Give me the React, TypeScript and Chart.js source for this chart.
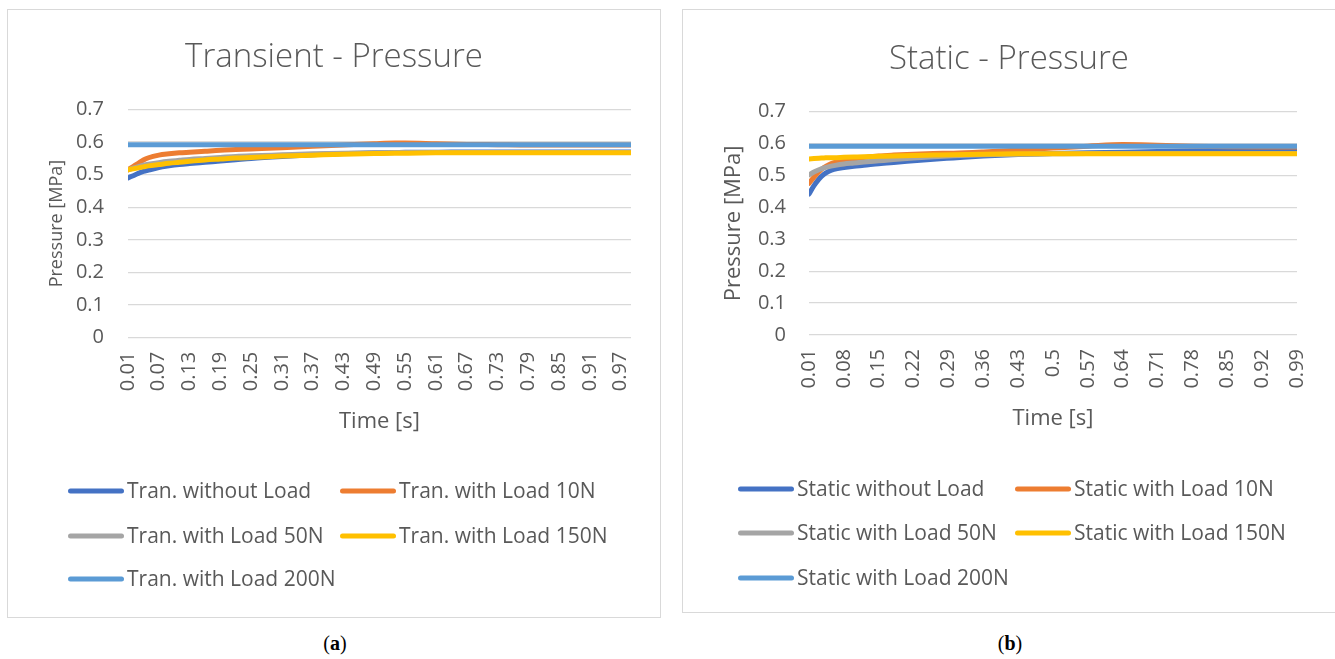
import React, { useEffect, useRef } from "react";
import { Chart, registerables } from "chart.js";

Chart.register(...registerables);

// ---------------- DATA ----------------
const seriesColors = ["#4472C4", "#ED7D31", "#A5A5A5", "#FFC000", "#5B9BD5"];

const yTickLabels = ["0", "0.1", "0.2", "0.3", "0.4", "0.5", "0.6", "0.7"];

// (a) Transient
const tranLabels = [
  "Tran. without Load",
  "Tran. with Load 10N",
  "Tran. with Load 50N",
  "Tran. with Load 150N",
  "Tran. with Load 200N",
];
const tranTickValues = [0.01, 0.07, 0.13, 0.19, 0.25, 0.31, 0.37, 0.43, 0.49, 0.55, 0.61, 0.67, 0.73, 0.79, 0.85, 0.91, 0.97];
const tranTickLabels = ["0.01", "0.07", "0.13", "0.19", "0.25", "0.31", "0.37", "0.43", "0.49", "0.55", "0.61", "0.67", "0.73", "0.79", "0.85", "0.91", "0.97"];
const tranTime = [0.01, 0.02, 0.03, 0.04, 0.05, 0.07, 0.09, 0.11, 0.13, 0.16, 0.19, 0.22, 0.25, 0.31, 0.37, 0.43, 0.49, 0.53, 0.55, 0.61, 0.67, 0.73, 0.79, 0.85, 0.91, 0.97, 0.99];
const tranNoLoad = [0.49, 0.497, 0.504, 0.51, 0.514, 0.522, 0.527, 0.531, 0.534, 0.538, 0.542, 0.546, 0.55, 0.556, 0.561, 0.565, 0.567, 0.568, 0.569, 0.569, 0.57, 0.57, 0.57, 0.57, 0.57, 0.57, 0.57];
const tranLoad10 = [0.515, 0.525, 0.535, 0.545, 0.552, 0.56, 0.564, 0.567, 0.569, 0.572, 0.575, 0.577, 0.579, 0.583, 0.587, 0.591, 0.595, 0.597, 0.597, 0.595, 0.593, 0.592, 0.591, 0.591, 0.591, 0.591, 0.591];
const tranLoad50 = [0.515, 0.52, 0.525, 0.529, 0.532, 0.537, 0.541, 0.544, 0.547, 0.55, 0.553, 0.556, 0.558, 0.561, 0.564, 0.566, 0.567, 0.568, 0.568, 0.568, 0.568, 0.568, 0.568, 0.568, 0.568, 0.568, 0.568];
const tranLoad150 = [0.515, 0.518, 0.521, 0.524, 0.527, 0.531, 0.535, 0.538, 0.541, 0.545, 0.548, 0.551, 0.553, 0.557, 0.56, 0.563, 0.565, 0.566, 0.566, 0.567, 0.567, 0.567, 0.567, 0.567, 0.567, 0.567, 0.567];
const tranLoad200 = [0.592, 0.592, 0.592, 0.592, 0.592, 0.592, 0.592, 0.592, 0.592, 0.592, 0.592, 0.592, 0.592, 0.592, 0.592, 0.592, 0.592, 0.592, 0.592, 0.592, 0.592, 0.592, 0.592, 0.592, 0.592, 0.592, 0.592];

// (b) Static
const statLabels = [
  "Static without Load",
  "Static with Load 10N",
  "Static with Load 50N",
  "Static with Load 150N",
  "Static with Load 200N",
];
const statTickValues = [0.01, 0.08, 0.15, 0.22, 0.29, 0.36, 0.43, 0.5, 0.57, 0.64, 0.71, 0.78, 0.85, 0.92, 0.99];
const statTickLabels = ["0.01", "0.08", "0.15", "0.22", "0.29", "0.36", "0.43", "0.5", "0.57", "0.64", "0.71", "0.78", "0.85", "0.92", "0.99"];
const statTime = [0.01, 0.02, 0.03, 0.04, 0.05, 0.06, 0.08, 0.1, 0.12, 0.15, 0.18, 0.22, 0.26, 0.3, 0.36, 0.43, 0.5, 0.57, 0.64, 0.71, 0.78, 0.85, 0.92, 0.99];
const statNoLoad = [0.442, 0.468, 0.489, 0.504, 0.513, 0.519, 0.525, 0.529, 0.532, 0.537, 0.541, 0.546, 0.551, 0.555, 0.561, 0.566, 0.569, 0.571, 0.573, 0.575, 0.576, 0.577, 0.578, 0.578];
const statLoad10 = [0.475, 0.495, 0.512, 0.525, 0.534, 0.54, 0.547, 0.552, 0.556, 0.561, 0.564, 0.567, 0.569, 0.57, 0.574, 0.58, 0.586, 0.592, 0.597, 0.595, 0.592, 0.59, 0.589, 0.589];
const statLoad50 = [0.502, 0.511, 0.518, 0.524, 0.528, 0.531, 0.536, 0.539, 0.542, 0.546, 0.55, 0.555, 0.559, 0.562, 0.565, 0.567, 0.568, 0.569, 0.569, 0.569, 0.569, 0.569, 0.569, 0.569];
const statLoad150 = [0.552, 0.553, 0.554, 0.555, 0.556, 0.556, 0.557, 0.558, 0.559, 0.56, 0.561, 0.563, 0.564, 0.565, 0.567, 0.568, 0.568, 0.568, 0.568, 0.568, 0.568, 0.568, 0.568, 0.568];
const statLoad200 = [0.592, 0.592, 0.592, 0.592, 0.592, 0.592, 0.592, 0.592, 0.592, 0.592, 0.592, 0.592, 0.592, 0.592, 0.592, 0.592, 0.592, 0.592, 0.592, 0.592, 0.592, 0.592, 0.592, 0.592];

// ---------------- STYLE ----------------
const FONT = '"Open Sans", "Noto Sans", "DejaVu Sans", sans-serif';
const TEXT = "#595959";

const centeredTitle = {
  id: "centeredTitle",
  afterDraw(chart: any, _args: any, opts: any) {
    const ctx = chart.ctx;
    ctx.save();
    ctx.fillStyle = TEXT;
    ctx.font = `300 ${opts.size}px ${FONT}`;
    ctx.textAlign = "center";
    ctx.textBaseline = "middle";
    ctx.fillText(opts.text, chart.width / 2, opts.y);
    ctx.restore();
  },
};

const gridLegend = {
  id: "gridLegend",
  afterDraw(chart: any, _args: any, opts: any) {
    const ctx = chart.ctx;
    const { slots, size, lineLen, lineWidth, gap } = opts;
    chart.data.datasets.forEach((ds: any, i: number) => {
      const s = slots[i];
      if (!s) return;
      ctx.save();
      ctx.strokeStyle = ds.borderColor;
      ctx.lineWidth = lineWidth;
      ctx.lineCap = "round";
      ctx.beginPath();
      ctx.moveTo(s[0] + lineWidth / 2, s[1]);
      ctx.lineTo(s[0] + lineLen - lineWidth / 2, s[1]);
      ctx.stroke();
      ctx.fillStyle = TEXT;
      ctx.font = `${size}px ${FONT}`;
      ctx.textBaseline = "middle";
      ctx.textAlign = "left";
      ctx.fillText(ds.label, s[0] + lineLen + gap, s[1] + 1);
      ctx.restore();
    });
  },
};

function buildConfig(p: any) {
  const datasets = p.series.map((vals: number[], i: number) => ({
    label: p.labels[i],
    data: vals.map((v, j) => ({ x: p.time[j], y: v })),
    borderColor: seriesColors[i],
    backgroundColor: seriesColors[i],
    borderWidth: 5,
    pointRadius: 0,
    borderCapStyle: "round",
    borderJoinStyle: "round",
    cubicInterpolationMode: "monotone",
    fill: false,
    order: p.series.length - i,
  }));
  return {
    type: "line",
    data: { datasets },
    plugins: [centeredTitle, gridLegend],
    options: {
      responsive: false,
      animation: false,
      events: [],
      layout: { padding: { top: p.padTop, left: 0, right: p.padRight, bottom: p.padBottom } },
      plugins: {
        legend: { display: false },
        tooltip: { enabled: false },
        title: { display: false },
        centeredTitle: { text: p.title, size: 33, y: p.titleY },
        gridLegend: { slots: p.legendSlots, size: 21, lineLen: 56, lineWidth: 5, gap: 3 },
      },
      scales: {
        x: {
          type: "linear",
          min: 0.01,
          max: 0.99,
          grid: { display: false, drawTicks: false },
          border: { display: false },
          afterBuildTicks: (scale: any) => {
            scale.ticks = p.tickValues.map((v: number) => ({ value: v }));
          },
          afterFit: (scale: any) => {
            scale.height = 110;
          },
          ticks: {
            autoSkip: false,
            maxRotation: 90,
            minRotation: 90,
            padding: 14,
            color: TEXT,
            font: { family: FONT, size: 20 },
            callback: (_v: any, i: number) => p.tickLabels[i],
          },
          title: {
            display: true,
            text: "Time [s]",
            color: TEXT,
            font: { family: FONT, size: 22 },
            padding: { top: 0, bottom: p.xTitleBottom },
          },
        },
        y: {
          min: 0,
          max: 0.7,
          grid: { color: "#d9d9d9", lineWidth: 1.3, drawTicks: false },
          border: { display: false },
          afterFit: (scale: any) => {
            scale.width = p.yWidth;
          },
          ticks: {
            stepSize: 0.1,
            padding: p.yTickPad,
            color: TEXT,
            font: { family: FONT, size: 20 },
            callback: (_v: any, i: number) => yTickLabels[i],
          },
          title: {
            display: true,
            text: "Pressure [MPa]",
            color: TEXT,
            font: { family: FONT, size: p.yTitleSize },
            padding: { top: p.yTitleTop, bottom: 0 },
          },
        },
      },
    },
  };
}

function Panel(props: { p: any; w: number; h: number; left: number; top: number }) {
  const ref = useRef<HTMLCanvasElement>(null);
  useEffect(() => {
    if (!ref.current) return;
    const chart = new Chart(ref.current, buildConfig(props.p) as any);
    return () => chart.destroy();
  }, []);
  return (
    <canvas
      ref={ref}
      width={props.w}
      height={props.h}
      style={{ position: "absolute", left: props.left, top: props.top, width: props.w, height: props.h, display: "block" }}
    />
  );
}

const leftParams = {
  title: "Transient - Pressure",
  titleY: 47.5,
  labels: tranLabels,
  time: tranTime,
  series: [tranNoLoad, tranLoad10, tranLoad50, tranLoad150, tranLoad200],
  tickValues: tranTickValues,
  tickLabels: tranTickLabels,
  padTop: 99.5,
  padRight: 29,
  padBottom: 169.3,
  xTitleBottom: 12.5,
  yWidth: 120,
  yTickPad: 24,
  yTitleSize: 18,
  yTitleTop: 38.2,
  legendSlots: [
    [60, 481],
    [332, 481],
    [60, 526],
    [332, 526],
    [60, 569],
  ],
};

const rightParams = {
  title: "Static - Pressure",
  titleY: 49.5,
  labels: statLabels,
  time: statTime,
  series: [statNoLoad, statLoad10, statLoad50, statLoad150, statLoad200],
  tickValues: statTickValues,
  tickLabels: statTickLabels,
  padTop: 101.7,
  padRight: 30,
  padBottom: 167,
  xTitleBottom: 12.8,
  yWidth: 126,
  yTickPad: 23,
  yTitleSize: 22,
  yTitleTop: 37.8,
  legendSlots: [
    [55, 479],
    [332, 479],
    [55, 523],
    [332, 523],
    [55, 568],
  ],
};

export default function App() {
  return (
    <div style={{ position: "absolute", left: 0, top: 0, width: 1335, height: 659, background: "#fff", overflow: "hidden" }}>
      <div style={{ position: "absolute", left: 7, top: 9, width: 652, height: 607, border: "1px solid #d9d9d9" }} />
      <div style={{ position: "absolute", left: 682, top: 9, width: 652, height: 602, border: "1px solid #d9d9d9" }} />
      <Panel p={leftParams} w={652} h={607} left={8} top={10} />
      <Panel p={rightParams} w={652} h={602} left={683} top={10} />
      <div style={{ position: "absolute", left: 300, top: 632, width: 70, textAlign: "center", fontFamily: '"Liberation Serif", serif', fontSize: 20, color: "#000" }}>
        (<b>a</b>)
      </div>
      <div style={{ position: "absolute", left: 975, top: 632, width: 70, textAlign: "center", fontFamily: '"Liberation Serif", serif', fontSize: 20, color: "#000" }}>
        (<b>b</b>)
      </div>
    </div>
  );
}
